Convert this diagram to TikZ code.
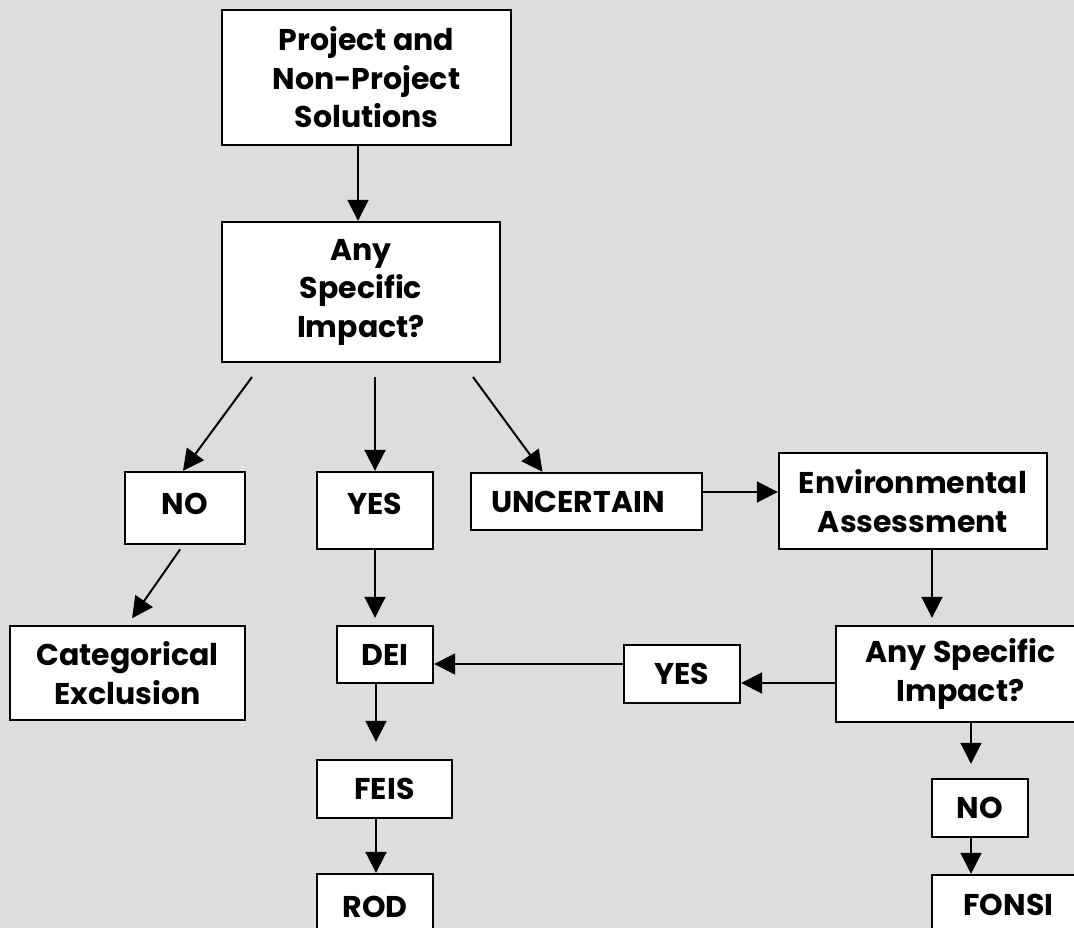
\documentclass[tikz,border=0pt]{standalone}
\usepackage{fontspec}
\setmainfont{Poppins}
\usepackage{tikz}
\usetikzlibrary{arrows.meta,shapes,positioning}
\definecolor{bggray}{RGB}{221,221,221}

\begin{document}
\begin{tikzpicture}[x=1pt,y=-1pt,
  box/.style={draw, fill=white, line width=2.4pt, align=center, inner sep=0pt,
    font=\fontsize{30}{38.5}\selectfont\bfseries},
  arr/.style={line width=2pt, -{Triangle[length=21pt,width=21pt]}}]

\fill[bggray] (0,0) rectangle (1074,928);
\useasboundingbox (0,0) rectangle (1074,928);

\node[box, minimum width=289pt, minimum height=135pt] (proj) at (366.5,77.5) {Project and\\Non-Project\\Solutions};
\node[box, minimum width=278pt, minimum height=140pt] (asi) at (361,292) {Any\\Specific\\Impact?};

\node[box, minimum width=120pt, minimum height=72pt, text depth=9pt] (no) at (185,508) {NO};
\node[box, minimum width=116pt, minimum height=77pt, text depth=14pt] (yes) at (375,510.5) {YES};
\node[box, minimum width=231pt, minimum height=57pt] (unc) at (586.5,501.5) {UNCERTAIN\kern17pt};
\node[box, minimum width=268pt, minimum height=96pt] (env) at (913,501) {Environmental\\Assessment};

\node[box, minimum width=235pt, minimum height=94pt] (cat) at (127.5,673) {Categorical\\Exclusion};
\node[box, minimum width=96pt, minimum height=57pt] (dei) at (385,654.5) {DEI};
\node[box, minimum width=116pt, minimum height=58pt] (yes2) at (682,674) {YES};
\node[box, minimum width=249pt, minimum height=96pt] (asi2) at (960.5,674) {Any Specific\\Impact?};

\node[box, minimum width=135pt, minimum height=58pt] (feis) at (384.5,789) {FEIS};
\node[box, minimum width=96pt, minimum height=58pt] (no2) at (980,808) {NO};

\node[box, minimum width=116pt, minimum height=66pt] (rod) at (375,907) {ROD};
\node[box, minimum width=153pt, minimum height=60pt] (fonsi) at (1008.5,905) {FONSI};

% arrows out of the first question
\coordinate (s1) at (252,377);
\coordinate (s2) at (375,377);
\coordinate (s3) at (473,377);
\path[draw] [arr] ([xshift=-8.5pt]proj.south) -- ([xshift=-8.5pt]proj.south |- asi.north);
\path[draw] [arr] (s1) -- ([xshift=-2pt]no.north);
\path[draw] [arr] (s2) -- (yes.north);
\path[draw] [arr] (s3) -- ([xshift=-44pt]unc.north);

\path[draw] [arr, shorten <=5pt, shorten >=8pt] ([xshift=-2pt]no.south) -- (cat.north);
\path[draw] [arr, shorten >=7pt] (yes.south) -- (yes.south |- dei.north);
\path[draw] [arr] ([yshift=9.5pt]unc.east) -- ([yshift=9.5pt]unc.east -| env.west);

% second question
\path[draw] [arr, shorten >=7pt] ([xshift=19pt]env.south) -- ([xshift=19pt]env.south |- asi2.north);
\path[draw] [arr] ([yshift=-9pt]asi2.west) -- ([yshift=-9pt]asi2.west -| yes2.east);
\path[draw] [arr] ([yshift=10pt]yes2.west) -- ([yshift=10pt]yes2.west -| dei.east);
\path[draw] [arr, shorten >=14pt] ([xshift=10.5pt]asi2.south) -- ([xshift=10.5pt]asi2.south |- no2.north);
\path[draw] [arr] ([xshift=-9pt]no2.south) -- ([xshift=-9pt]no2.south |- fonsi.north);

% down to the record
\path[draw] [arr, shorten >=17pt] ([xshift=-9pt]dei.south) -- ([xshift=-9pt]dei.south |- feis.north);
\path[draw] [arr] ([xshift=-8.5pt]feis.south) -- ([xshift=-8.5pt]feis.south |- rod.north);

\end{tikzpicture}
\end{document}
